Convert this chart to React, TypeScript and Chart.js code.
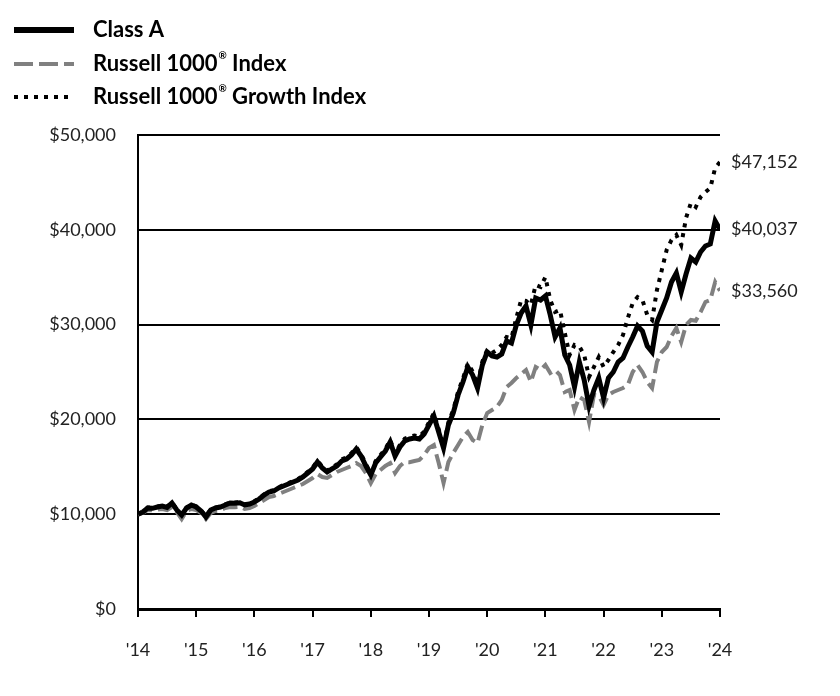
import React, { useEffect, useRef } from "react";
import { Chart, registerables } from "chart.js";

Chart.register(...registerables);

const yearLabels = ["'14", "'15", "'16", "'17", "'18", "'19", "'20", "'21", "'22", "'23", "'24"];

const seriesNames = ["Class A", "Russell 1000", "Russell 1000"];
const seriesSuffix = ["", " Index", " Growth Index"];

const classA = [
  10000, 10232, 10654, 10620, 10760, 10865, 10720, 11181, 10443, 9916, 10654, 10970,
  10760, 10338, 9705, 10443, 10654, 10760, 10970, 11181, 11160, 11200, 10970, 11076,
  11287, 11603, 12025, 12342, 12447, 12764, 12975, 13186, 13397, 13608, 13924, 14346,
  14768, 15506, 14873, 14451, 14768, 15084, 15612, 15823, 16245, 16878, 16139, 15084,
  14135, 15401, 16034, 16667, 17616, 16139, 17089, 17721, 17932, 18038, 17932, 18460,
  19409, 20359, 18671, 16983, 19409, 20675, 22574, 23945, 25527, 24683, 23312, 25738,
  27110, 26688, 26582, 26899, 28270, 28059, 29958, 31224, 31962, 29958, 32806, 32595,
  33017, 31013, 28692, 29641, 26793, 25738, 23418, 26055, 24156, 21413, 23101, 24367,
  22257, 24367, 25000, 26055, 26477, 27637, 28692, 29852, 29325, 27743, 27110, 30274,
  31540, 32806, 34494, 35443, 33439, 35337, 37025, 36603, 37658, 38291, 38502, 40928,
  40037,
];

const russell1000 = [
  10000, 10127, 10443, 10400, 10480, 10549, 10430, 10760, 10232, 9494, 10338, 10549,
  10443, 10127, 9494, 10127, 10338, 10443, 10654, 10760, 10740, 10780, 10549, 10654,
  10865, 11181, 11498, 11814, 11920, 12131, 12342, 12553, 12764, 12975, 13186, 13502,
  13819, 14240, 13924, 13819, 14135, 14451, 14662, 14873, 15084, 15401, 15084, 14346,
  13291, 14240, 14662, 15084, 15401, 14346, 15084, 15506, 15480, 15612, 15717, 16245,
  16983, 17300, 15401, 13291, 15506, 16456, 17300, 18143, 18671, 17827, 17510, 19409,
  20675, 20992, 21308, 22046, 23418, 23840, 24367, 24789, 25211, 23945, 25527, 25211,
  25738, 24894, 25211, 24683, 22890, 23101, 20992, 22363, 22046, 19726, 22574, 22500,
  21519, 22574, 22890, 23101, 23312, 23629, 25000, 25738, 25000, 23945, 23312, 26055,
  27110, 27637, 28797, 29641, 28165, 29958, 30485, 30400, 31329, 32384, 32595, 34494,
  33560,
];

const russell1000Growth = [
  10000, 10280, 10700, 10700, 10800, 10930, 10800, 11230, 10500, 9980, 10720, 11050,
  10820, 10400, 9780, 10500, 10700, 10820, 11050, 11250, 11230, 11280, 11050, 11150,
  11360, 11680, 12100, 12420, 12530, 12850, 13070, 13280, 13500, 13720, 14040, 14460,
  14890, 15640, 15010, 14600, 14920, 15250, 15780, 16000, 16430, 17070, 16330, 15270,
  14300, 15600, 16240, 16880, 17850, 16350, 17310, 17960, 18180, 18290, 18180, 18720,
  19690, 20650, 18950, 17220, 19700, 20990, 22920, 24300, 25900, 25050, 23650, 26100,
  27321, 27004, 27321, 27848, 28692, 28586, 30696, 32595, 32500, 32067, 34177, 33966,
  35021, 32595, 31329, 31540, 29114, 26793, 27848, 27700, 26793, 24473, 25527, 26582,
  25527, 26266, 27110, 27848, 28903, 30696, 32278, 32911, 32595, 31013, 30485, 33650,
  35759, 37869, 38924, 39451, 38397, 41245, 42827, 42405, 43460, 43987, 44409, 46519,
  47152,
];

const endLabels = ["$40,037", "$33,560", "$47,152"];

const colors = ["#000000", "#808080", "#000000"];
const widths = [5, 4, 4];
const dashes: number[][] = [[], [15, 6], [4, 6]];

const FONT = "Lato";
const TEXT = "#222222";

const toPoints = (arr: number[]) => arr.map((v, i) => ({ x: i, y: v }));

export default function App() {
  const ref = useRef<HTMLCanvasElement | null>(null);

  useEffect(() => {
    const canvas = ref.current;
    if (!canvas) return;

    const overlay = {
      id: "overlay",
      afterDraw(chart: any) {
        const ctx = chart.ctx as CanvasRenderingContext2D;
        const area = chart.chartArea;
        const yScale = chart.scales.y;
        ctx.save();
        // legend
        const legendY = [30, 64, 97];
        for (let i = 0; i < 3; i++) {
          const y = legendY[i];
          ctx.beginPath();
          ctx.setLineDash(i === 1 ? [19, 6] : dashes[i]);
          ctx.lineWidth = widths[i] + (i === 0 ? 1 : 0);
          ctx.strokeStyle = colors[i];
          ctx.lineCap = "butt";
          ctx.moveTo(14, y);
          ctx.lineTo(74, y);
          ctx.stroke();
          ctx.setLineDash([]);
          ctx.fillStyle = "#000";
          ctx.textBaseline = "middle";
          ctx.textAlign = "left";
          ctx.font = `bold 22px ${FONT}`;
          let x = 93;
          ctx.fillText(seriesNames[i], x, y);
          x += ctx.measureText(seriesNames[i]).width;
          if (seriesSuffix[i]) {
            ctx.font = `bold 10px ${FONT}`;
            ctx.fillText("®", x + 1, y - 8);
            x += ctx.measureText("®").width + 1;
            ctx.font = `bold 22px ${FONT}`;
            ctx.fillText(seriesSuffix[i], x, y);
          }
        }
        // end labels
        const lastVals = [classA[classA.length - 1], russell1000[russell1000.length - 1], russell1000Growth[russell1000Growth.length - 1]];
        ctx.font = `18px ${FONT}`;
        ctx.fillStyle = TEXT;
        ctx.textAlign = "left";
        ctx.textBaseline = "middle";
        for (let i = 0; i < 3; i++) {
          const y = yScale.getPixelForValue(lastVals[i]);
          ctx.fillText(endLabels[i], area.right + 11, y);
        }
        ctx.restore();
      },
    };

    const chart = new Chart(canvas, {
      type: "line",
      data: {
        datasets: [classA, russell1000, russell1000Growth].map((arr, i) => ({
          label: seriesNames[i] + seriesSuffix[i],
          data: toPoints(arr),
          borderColor: colors[i],
          borderWidth: widths[i],
          borderDash: dashes[i],
          borderJoinStyle: "miter" as const,
          borderCapStyle: "butt" as const,
          pointRadius: 0,
          tension: 0,
          fill: false,
        })),
      },
      options: {
        animation: false,
        responsive: false,
        devicePixelRatio: 1,
        layout: { padding: { top: 135, right: 120, left: 0, bottom: 0 } },
        plugins: { legend: { display: false }, tooltip: { enabled: false } },
        scales: {
          x: {
            type: "linear",
            min: 0,
            max: 120,
            afterFit: (s: any) => {
              s.height = 87;
            },
            ticks: {
              stepSize: 12,
              autoSkip: false,
              maxRotation: 0,
              padding: 22,
              color: TEXT,
              font: { family: FONT, size: 18 },
              callback: (v: any) => yearLabels[Math.round(Number(v) / 12)] ?? "",
            },
            grid: {
              display: true,
              drawOnChartArea: false,
              drawTicks: true,
              tickLength: 8,
              color: "#000",
              lineWidth: 2,
            },
            border: { display: true, color: "#000", width: 3 },
          },
          y: {
            min: 0,
            max: 50000,
            afterFit: (s: any) => {
              s.width = 138;
            },
            ticks: {
              stepSize: 10000,
              padding: 22,
              color: TEXT,
              font: { family: FONT, size: 18 },
              callback: (v: any) => "$" + Number(v).toLocaleString("en-US"),
            },
            grid: { color: "#000", lineWidth: 2, drawTicks: false },
            border: { display: true, color: "#000", width: 2 },
          },
        },
      },
      plugins: [overlay],
    });

    return () => chart.destroy();
  }, []);

  return (
    <div style={{ position: "fixed", left: 0, top: 0, width: 840, height: 696, background: "#fff" }}>
      <canvas ref={ref} width={840} height={696} />
    </div>
  );
}
